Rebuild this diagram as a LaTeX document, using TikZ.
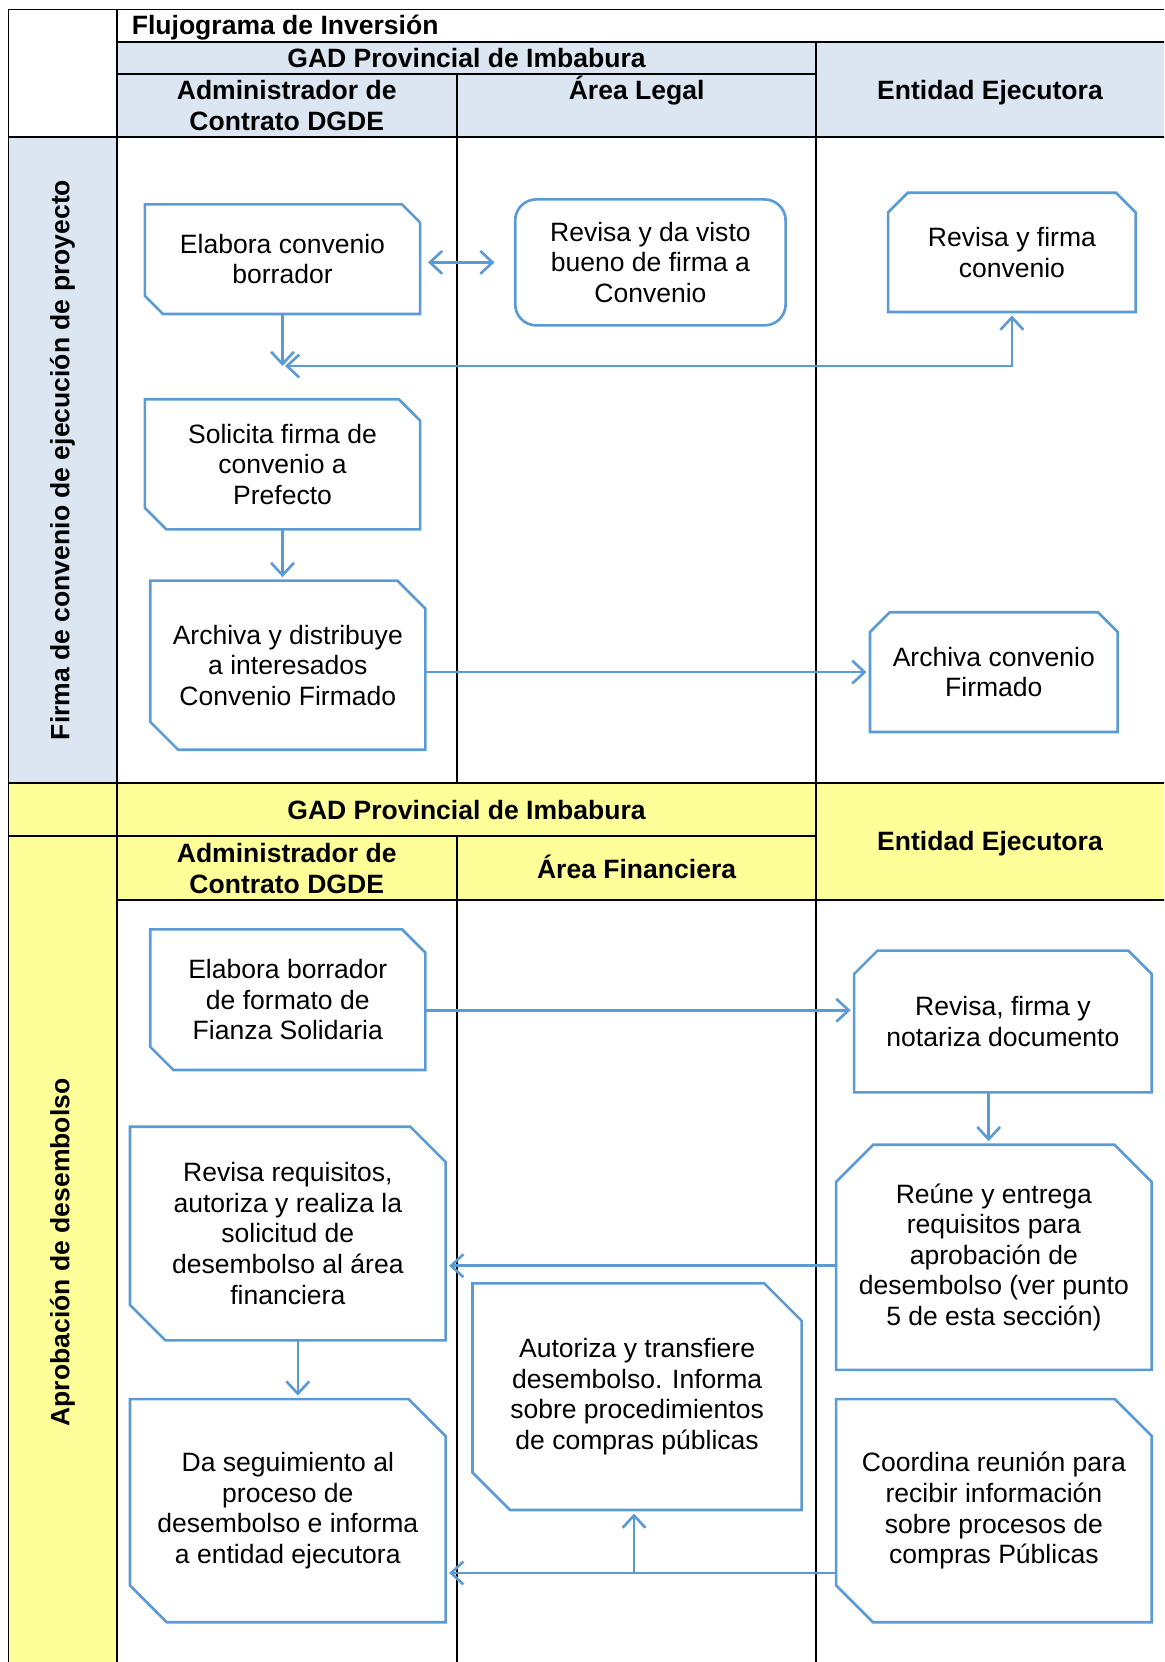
\documentclass[tikz,border=0pt]{standalone}
\usepackage{fontspec}
\setmainfont{Liberation Sans}
\usetikzlibrary{arrows.meta}

\definecolor{boxblue}{HTML}{5B9BD5}
\definecolor{headblue}{HTML}{DCE6F2}
\definecolor{headyellow}{HTML}{FFFF99}

\tikzstyle{grid} = [draw=black, line width=1.1pt]
\tikzstyle{lanehead} = [font=\bfseries, align=center, inner sep=0pt]
\tikzstyle{taskbox} = [rectangle, align=center, inner sep=0pt]
\tikzstyle{frame} = [draw=boxblue, line width=1.5pt, line join=miter]
\tikzstyle{roundbox} = [taskbox, frame, rounded corners=12pt]
\tikzstyle{arrow} = [line width=1.5pt, draw=boxblue, ->, >={Straight Barb[length=7pt, width=13pt]}]
\tikzstyle{dblarrow} = [arrow, <->]

% outline with cut top-right and bottom-left corners
\newcommand{\snipcut}[2]{\draw [frame] ([xshift=-#2]#1.north east) -- ([yshift=-#2]#1.north east) -- (#1.south east) -- ([xshift=#2]#1.south west) -- ([yshift=#2]#1.south west) -- (#1.north west) -- cycle;}
% outline with both top corners cut
\newcommand{\topcut}[2]{\draw [frame] ([xshift=#2]#1.north west) -- ([xshift=-#2]#1.north east) -- ([yshift=-#2]#1.north east) -- (#1.south east) -- (#1.south west) -- ([yshift=-#2]#1.north west) -- cycle;}

\begin{document}
\fontsize{15.1pt}{17.4pt}\selectfont
\begin{tikzpicture}[x=0.02cm, y=-0.02cm]

    \useasboundingbox (0,0) rectangle (1164,1662);
    \clip (0,0) rectangle (1164,1662);

    % Table
    \fill [headblue] (116.6,42.4) rectangle (1170,136.8);
    \fill [headblue] (8.5,136.8) rectangle (116.6,783.4);
    \fill [headyellow] (8.5,783.4) rectangle (1170,900);
    \fill [headyellow] (8.5,900) rectangle (116.6,1670);

    \draw [grid] (8.5,9.5) -- (1170,9.5);
    \draw [grid] (8.5,9.5) -- (8.5,1670);
    \draw [grid] (116.6,9.5) -- (116.6,1670);
    \draw [grid] (456.9,74.2) -- (456.9,783.4);
    \draw [grid] (456.9,836.4) -- (456.9,1670);
    \draw [grid] (816.3,42.4) -- (816.3,1670);
    \draw [grid] (116.6,42.4) -- (1170,42.4);
    \draw [grid] (116.6,74.2) -- (816.3,74.2);
    \draw [grid] (8.5,136.8) -- (1170,136.8);
    \draw [grid] (8.5,783.4) -- (1170,783.4);
    \draw [grid] (8.5,836.4) -- (816.3,836.4);
    \draw [grid] (116.6,900) -- (1170,900);

    % Headers
    \node (title) [lanehead, anchor=west] at (131.5,28) {Flujograma de Inversión};
    \node (gad1) [lanehead] at (466.5,58.3) {GAD Provincial de Imbabura};
    \node (admin1) [lanehead] at (286.7,105.5) {Administrador de\\Contrato DGDE};
    \node (legal) [lanehead] at (636.6,91) {Área Legal};
    \node (entidad1) [lanehead] at (990,92.6) {Entidad Ejecutora};
    \node (gad2) [lanehead] at (466.5,810) {GAD Provincial de Imbabura};
    \node (admin2) [lanehead] at (286.7,868.5) {Administrador de\\Contrato DGDE};
    \node (financiera) [lanehead] at (636.6,866.5) {Área Financiera};
    \node (entidad2) [lanehead] at (990,843.7) {Entidad Ejecutora};
    \node (fase1) [lanehead, rotate=90] at (62.5,460) {Firma de convenio de ejecución de proyecto};
    \node (fase2) [lanehead, rotate=90] at (62.5,1252.5) {Aprobación de desembolso};

    % Nodes
    \node (elabora) [taskbox, minimum width=5.49cm, minimum height=2.18cm] at (282.5,259.2) {Elabora convenio\\borrador};
    \node (visto) [roundbox, minimum width=5.41cm, minimum height=2.52cm] at (650.4,262.4) {Revisa y da visto\\bueno de firma a\\Convenio};
    \node (firma) [taskbox, minimum width=4.94cm, minimum height=2.37cm] at (1011.9,252.4) {Revisa y firma\\convenio};
    \node (solicita) [taskbox, minimum width=5.49cm, minimum height=2.59cm] at (282.5,464.3) {Solicita firma de\\convenio a\\Prefecto};
    \node (distribuye) [taskbox, minimum width=5.49cm, minimum height=3.37cm] at (287.8,665.2) {Archiva y distribuye\\a interesados\\Convenio Firmado};
    \node (archiva) [taskbox, minimum width=4.94cm, minimum height=2.38cm] at (993.8,672.1) {Archiva convenio\\Firmado};

    \node (fianza) [taskbox, minimum width=5.49cm, minimum height=2.8cm] at (287.8,999.7) {Elabora borrador\\de formato de\\Fianza Solidaria};
    \node (notariza) [taskbox, minimum width=5.94cm, minimum height=2.82cm] at (1002.9,1021.5) {Revisa, firma y\\notariza documento};
    \node (reune) [taskbox, minimum width=6.3cm, minimum height=4.49cm] at (993.9,1257.3) {Reúne y entrega\\requisitos para\\aprobación de\\desembolso (ver punto\\5 de esta sección)};
    \node (requisitos) [taskbox, minimum width=6.3cm, minimum height=4.26cm] at (287.8,1233.5) {Revisa requisitos,\\autoriza y realiza la\\solicitud de\\desembolso al área\\financiera};
    \node (transfiere) [taskbox, minimum width=6.57cm, minimum height=4.52cm] at (637.1,1396.7) {Autoriza y transfiere\\desembolso. Informa\\sobre procedimientos\\de compras públicas};
    \node (seguimiento) [taskbox, minimum width=6.3cm, minimum height=4.45cm] at (287.8,1510.7) {Da seguimiento al\\proceso de\\desembolso e informa\\a entidad ejecutora};
    \node (coordina) [taskbox, minimum width=6.3cm, minimum height=4.45cm] at (993.9,1510.7) {Coordina reunión para\\recibir información\\sobre procesos de\\compras Públicas};

    % Outlines
    \snipcut{elabora}{10.3pt}
    \topcut{firma}{11.2pt}
    \snipcut{solicita}{12.2pt}
    \snipcut{distribuye}{15.9pt}
    \topcut{archiva}{11.2pt}
    \snipcut{fianza}{13.2pt}
    \topcut{notariza}{13.3pt}
    \topcut{reune}{21.2pt}
    \snipcut{requisitos}{20.1pt}
    \snipcut{transfiere}{21.3pt}
    \snipcut{seguimiento}{21pt}
    \snipcut{coordina}{21pt}

    \coordinate (retorno) at (285,366);
    \coordinate (compras) at (634,1573);

    % Arrows
    \draw [dblarrow, shorten <=4.5pt, shorten >=11pt] (elabora.east |- visto.west) -- (visto.west);
    \draw [arrow] (elabora.south) -- (elabora.south |- retorno);
    \draw [dblarrow, shorten >=2pt] (retorno) -| (firma.south);
    \draw [arrow, shorten >=2pt] (solicita.south) -- (solicita.south |- distribuye.north);
    \draw [arrow, shorten >=2pt] (distribuye.east |- archiva.west) -- (archiva.west);
    \draw [arrow, shorten >=2pt] ([yshift=-6pt]fianza.east) -- ([yshift=-6pt]fianza.east -| notariza.west);
    \draw [arrow, shorten >=2pt] ([xshift=-3pt]notariza.south -| reune.north) -- ([xshift=-3pt]reune.north);
    \draw [arrow, shorten >=2pt] ([yshift=-4.8pt]reune.west) -- ([yshift=-4.8pt]reune.west -| requisitos.east);
    \draw [arrow, shorten >=2pt] ([xshift=5.7pt]requisitos.south) -- ([xshift=5.7pt]requisitos.south |- seguimiento.north);
    \draw [arrow, shorten >=2pt] (coordina.west |- compras) -- (seguimiento.east |- compras);
    \draw [arrow, shorten >=2pt] (compras) -- (compras |- transfiere.south);

\end{tikzpicture}
\end{document}
